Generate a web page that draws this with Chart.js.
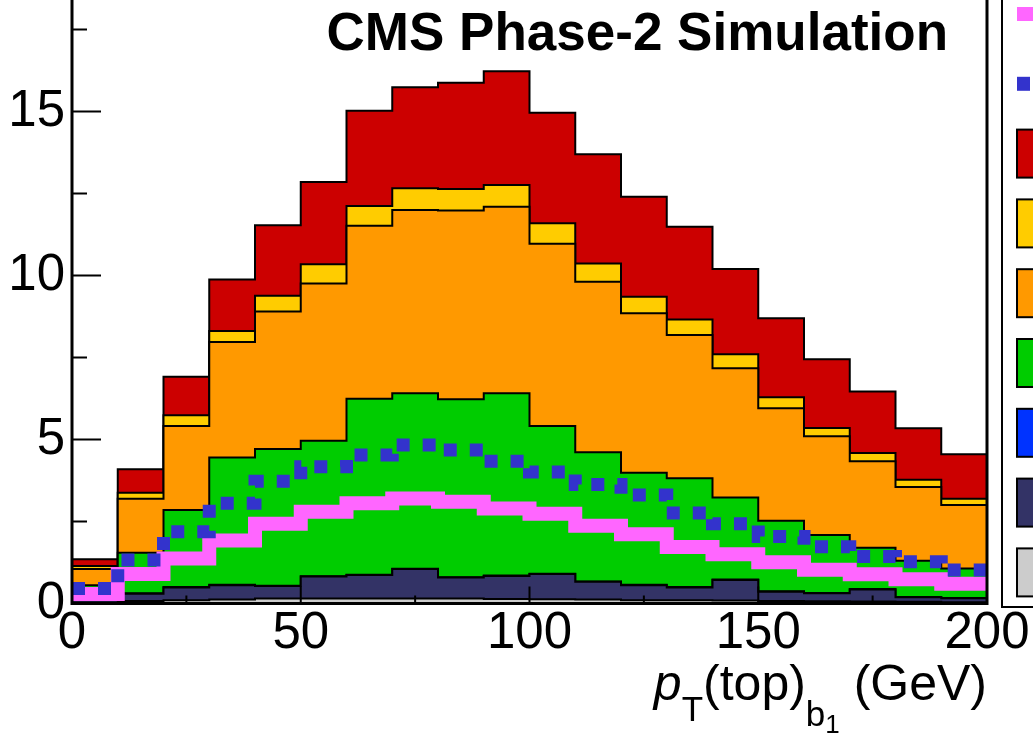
<!doctype html>
<html>

<head>
    <meta charset="utf-8" />
    <title>pT(top)_b1 stack</title>
    <style>
        html,
        body {
            margin: 0px;
            padding: 0px;
            background-color: #ffffff;
        }

        .wrap {
            width: 1033px;
            height: 733px;
        }
    </style>
</head>

<body>
    <div class="wrap">
        <canvas id="chart_pt" width="1033" height="733"></canvas>
    </div>

    <script src="https://cdn.jsdelivr.net/npm/chart.js@4.4.1/dist/chart.umd.min.js"></script>

    <script>
        // 20 bins of 10 GeV
        var binEdges = [0, 10, 20, 30, 40, 50, 60, 70, 80, 90, 100, 110, 120, 130, 140, 150, 160, 170, 180, 190, 200];
        var xTicks = [0, 50, 100, 150, 200];
        var yTicks = [0, 5, 10, 15];

        // stacked backgrounds, bottom to top
        var grayBkg = [0.03, 0.08, 0.10, 0.12, 0.15, 0.15, 0.15, 0.15, 0.15, 0.14, 0.13, 0.12, 0.10, 0.10, 0.09, 0.08, 0.07, 0.06, 0.05, 0.04];
        var navyBkg = [0.17, 0.22, 0.39, 0.44, 0.38, 0.67, 0.72, 0.90, 0.64, 0.70, 0.77, 0.54, 0.46, 0.39, 0.63, 0.28, 0.24, 0.37, 0.14, 0.12];
        var blueBkg = [0.01, 0.01, 0.01, 0.01, 0.01, 0.01, 0.01, 0.01, 0.01, 0.01, 0.01, 0.01, 0.01, 0.01, 0.01, 0.01, 0.01, 0.01, 0.01, 0.01];
        var greenBkg = [0.35, 1.24, 2.35, 3.88, 4.17, 4.13, 5.36, 5.35, 5.43, 5.56, 4.50, 3.94, 3.42, 3.32, 2.50, 2.15, 1.77, 1.26, 1.10, 0.90];
        var orangeBkg = [0.49, 1.64, 2.56, 3.52, 4.19, 4.80, 5.28, 5.59, 5.75, 5.69, 5.56, 5.20, 4.86, 4.37, 3.94, 3.43, 3.01, 2.64, 2.25, 1.93];
        var yellowBkg = [0.09, 0.19, 0.33, 0.34, 0.48, 0.58, 0.60, 0.66, 0.66, 0.66, 0.62, 0.56, 0.50, 0.47, 0.43, 0.34, 0.25, 0.25, 0.22, 0.19];
        var redBkg = [0.21, 0.71, 1.17, 1.57, 2.15, 2.51, 2.90, 3.08, 3.24, 3.47, 3.37, 3.33, 3.05, 2.83, 2.60, 2.41, 2.10, 1.87, 1.57, 1.36];

        // unstacked overlays
        var pinkLine = [0.29, 0.90, 1.37, 1.92, 2.43, 2.80, 3.06, 3.20, 3.10, 2.90, 2.74, 2.37, 2.11, 1.72, 1.50, 1.26, 1.03, 0.89, 0.74, 0.60];
        var squareLine = [0.46, 1.33, 2.19, 3.06, 3.73, 4.17, 4.53, 4.83, 4.68, 4.34, 4.01, 3.63, 3.31, 2.76, 2.43, 2.04, 1.73, 1.43, 1.27, 1.02];

        var font = "'Liberation Sans', Arial, Helvetica, sans-serif";

        // step histogram: one point per bin edge, last bin repeated at the end
        function histPoints(vals) {
            return binEdges.map(function (e, i) {
                return { x: e, y: vals[Math.min(i, vals.length - 1)] };
            });
        }

        function layer(label, color, vals, fill) {
            return {
                label: label,
                data: histPoints(vals),
                stack: 'bkg',
                order: 2,
                stepped: true,
                fill: fill,
                backgroundColor: color,
                borderColor: '#000000',
                borderWidth: 2,
                borderJoinStyle: 'miter',
                pointRadius: 0,
                clip: 0
            };
        }

        var datasets = [
            layer('gray', '#cccccc', grayBkg, 'origin'),
            layer('navy', '#333366', navyBkg, '-1'),
            layer('blue', '#0033ff', blueBkg, '-1'),
            layer('green', '#00cc00', greenBkg, '-1'),
            layer('orange', '#ff9900', orangeBkg, '-1'),
            layer('yellow', '#ffcc00', yellowBkg, '-1'),
            layer('red', '#cc0000', redBkg, '-1'),
            {
                label: 'pink',
                data: histPoints(pinkLine),
                stack: 'pink',
                order: 1,
                stepped: true,
                fill: false,
                borderColor: '#ff66ff',
                borderWidth: 14,
                borderJoinStyle: 'miter',
                borderCapStyle: 'butt',
                pointRadius: 0,
                clip: 0
            },
            {
                label: 'squares',
                data: histPoints(squareLine),
                stack: 'squares',
                order: 0,
                stepped: true,
                fill: false,
                borderColor: '#3333cc',
                borderWidth: 13,
                borderDash: [13, 13],
                borderJoinStyle: 'miter',
                borderCapStyle: 'butt',
                pointRadius: 0,
                clip: 0
            }
        ];

        // legend order as in the box on the right
        var legendOrder = [7, 8, 6, 5, 4, 3, 2, 1, 0];

        var frame = {
            id: 'frame',
            afterDatasetsDraw: function (chart) {
                var ctx = chart.ctx;
                var a = chart.chartArea;
                var xs = chart.scales.x;
                var ys = chart.scales.y;
                ctx.save();
                ctx.strokeStyle = '#000000';
                ctx.lineWidth = 2;
                ctx.beginPath();
                // y ticks inside the frame
                for (var v = 0; v <= ys.max; v += 2.5) {
                    var py = ys.getPixelForValue(v);
                    var len = (v % 5 === 0) ? 29 : 15;
                    ctx.moveTo(a.left, py);
                    ctx.lineTo(a.left + len, py);
                }
                // x ticks
                for (var u = 0; u <= 200; u += 25) {
                    var px = xs.getPixelForValue(u);
                    var l2 = (u % 50 === 0) ? 17 : 8;
                    ctx.moveTo(px, a.bottom);
                    ctx.lineTo(px, a.bottom - l2);
                }
                ctx.stroke();

                ctx.lineWidth = 3;
                ctx.beginPath();
                ctx.moveTo(a.left, a.top - 5);
                ctx.lineTo(a.left, a.bottom);
                ctx.lineTo(a.right, a.bottom);
                ctx.lineTo(a.right, a.top - 5);
                ctx.stroke();
                ctx.restore();
            },
            afterDraw: function (chart) {
                var ctx = chart.ctx;
                var a = chart.chartArea;
                ctx.save();
                ctx.fillStyle = '#000000';

                // title
                ctx.font = 'bold 53px ' + font;
                ctx.textAlign = 'right';
                ctx.textBaseline = 'alphabetic';
                ctx.fillText('CMS Phase-2 Simulation', 948, 50);

                // x axis title: p_T(top)_b1 (GeV)
                var parts = [
                    { t: 'p', f: 'italic 50px ' + font, dy: 0 },
                    { t: 'T', f: '35px ' + font, dy: 21 },
                    { t: '(top)', f: '50px ' + font, dy: 0 },
                    { t: 'b', f: '35px ' + font, dy: 26 },
                    { t: '1', f: '26px ' + font, dy: 33 },
                    { t: ' (GeV)', f: '50px ' + font, dy: 0 }
                ];
                var total = 0;
                parts.forEach(function (p) {
                    ctx.font = p.f;
                    p.w = ctx.measureText(p.t).width;
                    total += p.w;
                });
                var cx = a.right - total;
                var base = 700;
                ctx.textAlign = 'left';
                parts.forEach(function (p) {
                    ctx.font = p.f;
                    ctx.fillText(p.t, cx, base + p.dy);
                    cx += p.w;
                });

                // legend box (labels fall outside the picture)
                ctx.strokeStyle = '#000000';
                ctx.lineWidth = 2;
                ctx.strokeRect(1002, -5, 80, 612);
                legendOrder.forEach(function (idx, i) {
                    var ds = chart.data.datasets[idx];
                    var cy = 14 + 69.8 * i;
                    if (ds.label === 'pink') {
                        ctx.fillStyle = ds.borderColor;
                        ctx.fillRect(1017, cy - 7, 40, 14);
                    } else if (ds.label === 'squares') {
                        ctx.fillStyle = ds.borderColor;
                        ctx.fillRect(1017, cy - 7, 13, 14);
                    } else {
                        ctx.fillStyle = ds.backgroundColor;
                        ctx.fillRect(1017, cy - 24, 40, 48);
                        ctx.strokeRect(1017, cy - 24, 40, 48);
                    }
                });
                ctx.restore();
            }
        };

        var ctx_pt = document.getElementById('chart_pt').getContext('2d');
        var chart_pt = new Chart(ctx_pt, {
            type: 'line',
            data: { datasets: datasets },
            plugins: [frame],
            options: {
                responsive: false,
                animation: false,
                layout: { padding: { left: 0, right: 46, top: 0, bottom: 0 } },
                plugins: {
                    legend: { display: false },
                    tooltip: { enabled: false }
                },
                scales: {
                    x: {
                        type: 'linear',
                        min: 0,
                        max: 200,
                        grid: { display: false, drawTicks: false },
                        border: { display: false },
                        ticks: {
                            color: '#000000',
                            padding: 0,
                            maxRotation: 0,
                            autoSkip: false,
                            font: { family: font, size: 51 }
                        },
                        afterBuildTicks: function (s) {
                            s.ticks = xTicks.map(function (v) { return { value: v }; });
                        },
                        afterFit: function (s) {
                            s.height = 129.5;
                            s.paddingLeft = 0;
                            s.paddingRight = 0;
                        }
                    },
                    y: {
                        stacked: true,
                        min: 0,
                        max: 18.4,
                        grid: { display: false, drawTicks: false },
                        border: { display: false },
                        ticks: {
                            color: '#000000',
                            padding: 7,
                            font: { family: font, size: 51 }
                        },
                        afterBuildTicks: function (s) {
                            s.ticks = yTicks.map(function (v) { return { value: v }; });
                        },
                        afterFit: function (s) {
                            s.width = 72;
                            s.paddingTop = 0;
                            s.paddingBottom = 0;
                        }
                    }
                }
            }
        });
    </script>
</body>

</html>
